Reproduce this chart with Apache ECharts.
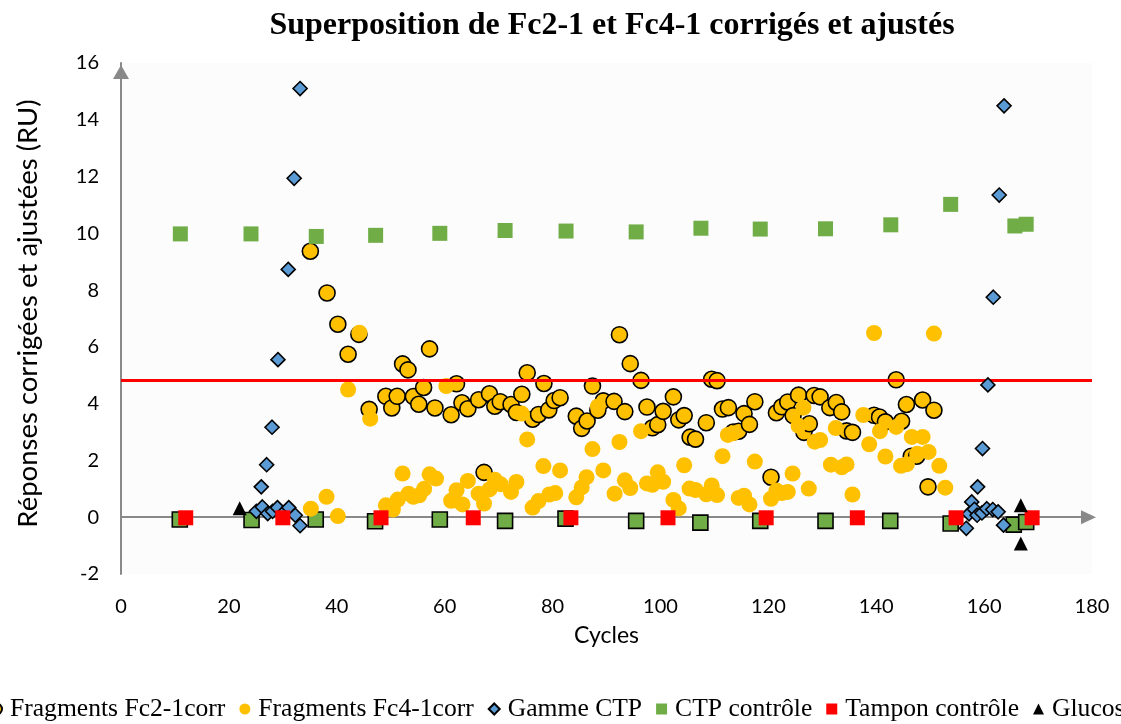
<!DOCTYPE html>
<html>
<head>
<meta charset="utf-8">
<script src="https://cdn.jsdelivr.net/npm/echarts/dist/echarts.min.js"></script>
<style>
  html, body { margin: 0; padding: 0; background: #ffffff; }
  #chart { width: 1121px; height: 724px; }
</style>
</head>
<body>
<div id="chart"></div>
<script>
// Corrected and adjusted responses (RU) per cycle, [cycle, response]
const fragmentsFc2 = [
  [35.1, 9.37], [38.2, 7.90], [40.2, 6.80], [42.1, 5.74], [44.1, 6.44], [46.0, 3.80],
  [49.1, 4.26], [50.2, 3.85], [51.2, 4.26], [52.2, 5.40], [53.2, 5.19], [54.2, 4.25], [55.2, 3.98],
  [56.1, 4.57], [57.2, 5.93], [58.2, 3.85], [61.2, 3.61], [62.2, 4.70], [63.2, 4.03], [64.3, 3.82],
  [66.3, 4.14], [67.3, 1.58], [68.3, 4.35], [69.3, 3.91], [70.3, 4.07], [72.3, 3.97], [73.3, 3.69],
  [74.3, 4.33], [75.3, 5.09], [76.3, 3.45], [77.4, 3.62], [78.4, 4.71], [79.3, 3.78], [80.3, 4.11],
  [81.4, 4.21], [84.4, 3.56], [85.4, 3.13], [86.4, 3.39], [87.4, 4.62], [88.4, 3.77], [89.4, 4.10],
  [91.4, 4.08], [92.4, 6.43], [93.4, 3.72], [94.4, 5.41], [96.4, 4.82], [97.5, 3.88], [98.5, 3.15],
  [99.5, 3.26], [100.5, 3.73], [102.4, 4.24], [103.4, 3.43], [104.4, 3.58], [105.5, 2.82], [106.5, 2.75],
  [108.5, 3.33], [109.5, 4.86], [110.5, 4.81], [111.5, 3.81], [112.6, 3.86], [113.5, 3.00], [114.5, 3.03],
  [115.5, 3.65], [116.5, 3.27], [117.5, 4.07], [120.5, 1.41], [121.5, 3.68], [122.5, 3.89], [123.6, 4.06],
  [124.6, 3.58], [125.6, 4.30], [126.6, 2.99], [127.6, 3.29], [128.5, 4.29], [129.6, 4.24], [131.4, 3.86],
  [132.6, 4.04], [133.6, 3.71], [134.5, 3.04], [135.6, 2.99], [139.6, 3.59], [140.6, 3.53], [141.7, 3.36],
  [143.7, 4.84], [144.7, 3.38], [145.6, 3.97], [146.5, 2.15], [147.5, 2.15], [148.6, 4.13], [149.6, 1.07],
  [150.7, 3.77]
];

const fragmentsFc4 = [
  [35.2, 0.30], [38.1, 0.72], [40.2, 0.04], [42.1, 4.50], [44.2, 6.50], [46.2, 3.47],
  [49.1, 0.42], [50.4, 0.27], [51.3, 0.62], [52.2, 1.54], [53.3, 0.83], [54.2, 0.72], [55.3, 0.77],
  [56.2, 1.00], [57.2, 1.51], [58.4, 1.36], [60.3, 4.62], [61.2, 0.58], [62.2, 0.95], [63.3, 0.45],
  [64.3, 1.28], [66.3, 0.83], [67.3, 0.48], [68.3, 0.98], [69.3, 1.32], [70.4, 1.16], [72.3, 0.89],
  [73.3, 1.24], [74.3, 3.65], [75.3, 2.74], [76.3, 0.34], [77.4, 0.57], [78.3, 1.80], [79.4, 0.80],
  [80.5, 0.85], [81.4, 1.65], [84.4, 0.70], [85.4, 1.05], [86.3, 1.41], [87.4, 2.40], [88.4, 3.90],
  [89.4, 1.65], [91.5, 0.83], [92.4, 2.65], [93.4, 1.30], [94.4, 1.03], [96.4, 3.03], [97.5, 1.19],
  [98.5, 1.14], [99.5, 1.58], [100.5, 1.25], [102.4, 0.61], [103.4, 0.31], [104.4, 1.83], [105.4, 1.01],
  [106.5, 0.96], [108.5, 0.81], [109.5, 1.12], [110.5, 0.78], [111.5, 2.15], [112.5, 2.90], [113.5, 2.96],
  [114.5, 0.68], [115.5, 0.76], [116.5, 0.45], [117.5, 1.96], [120.5, 0.65], [121.5, 0.94], [122.5, 0.85],
  [123.6, 0.89], [124.5, 1.54], [125.6, 3.22], [126.5, 3.86], [127.5, 1.01], [128.6, 2.66], [129.6, 2.72],
  [131.6, 1.85], [132.5, 3.14], [133.6, 1.76], [134.5, 1.86], [135.6, 0.80], [137.6, 3.60], [138.7, 2.57],
  [139.6, 6.49], [140.7, 3.03], [141.7, 2.14], [143.7, 3.18], [144.6, 1.81], [145.7, 1.87], [146.6, 2.83],
  [147.6, 2.24], [148.6, 2.83], [149.7, 2.30], [150.7, 6.47], [151.7, 1.81], [152.8, 1.04]
];

const gammeCTP = [
  [25.1, 0.21], [26.2, 0.36], [27.2, 0.13], [28.1, 0.21], [29.0, 0.34], [30.1, 0.15], [31.1, 0.34],
  [32.3, 0.07], [33.2, -0.30],
  [26.0, 1.07], [27.0, 1.85], [28.0, 3.17], [29.1, 5.55], [31.0, 8.73], [32.1, 11.94], [33.2, 15.10],
  [156.7, -0.39], [157.2, 0.12], [157.7, 0.54], [158.2, 0.28], [158.7, 0.07], [159.6, 0.15], [160.5, 0.30],
  [161.6, 0.27], [162.6, 0.19], [163.6, -0.28],
  [158.8, 1.07], [159.7, 2.42], [160.7, 4.66], [161.7, 7.75], [162.8, 11.35], [163.7, 14.49]
];

// CTP control injections, read on the reference channel (near 10 RU)
const ctpControle = [
  [11.0, 9.98], [24.1, 9.98], [36.2, 9.89], [47.2, 9.93], [59.1, 10.00], [71.2, 10.10], [82.5, 10.08],
  [95.5, 10.05], [107.5, 10.18], [118.5, 10.15], [130.6, 10.16], [142.7, 10.30], [153.8, 11.02],
  [165.7, 10.26], [167.8, 10.32]
];

// CTP control injections, read on the corrected channel (near 0 RU)
const ctpControleCorr = [
  [10.9, -0.08], [24.2, -0.10], [36.1, -0.08], [47.1, -0.14], [59.1, -0.08], [71.2, -0.13], [82.4, -0.05],
  [95.5, -0.13], [107.4, -0.19], [118.5, -0.13], [130.6, -0.13], [142.6, -0.13], [153.8, -0.22],
  [165.5, -0.26], [167.8, -0.17]
];

const tamponControle = [
  [12.0, -0.02], [30.0, -0.02], [48.2, -0.02], [65.3, -0.02], [83.4, -0.02], [101.4, -0.02],
  [119.6, -0.02], [136.5, -0.02], [154.8, -0.02], [168.9, -0.02]
];

const glucose = [
  [22.0, 0.32], [166.8, 0.42], [166.8, -0.93]
];

// Positivity threshold (RU)
const seuil = 4.83;

const xRange = { min: 0, max: 180, interval: 20 };
const yRange = { min: -2, max: 16, interval: 2 };

const titre = 'Superposition de Fc2-1 et Fc4-1 corrigés et ajustés';
const axeX = 'Cycles';
const axeY = 'Réponses corrigées et ajustées (RU)';
const legendNames = ['Fragments Fc2-1corr', 'Fragments Fc4-1corr', 'Gamme CTP', 'CTP contrôle', 'Tampon contrôle', 'Glucose'];

const axisGrey = '#898989';
const sansFont = 'Lato, "Open Sans", sans-serif';
const serifFont = '"Liberation Serif", "DejaVu Serif", serif';

function scatter(name, data, symbol, size, color, bordered, z) {
  return {
    type: 'scatter',
    name: name,
    data: data,
    symbol: symbol,
    symbolSize: size,
    z: z,
    itemStyle: {
      color: color,
      opacity: 1,
      borderColor: bordered ? '#000000' : color,
      borderWidth: bordered ? 1.6 : 0
    },
    emphasis: { disabled: true },
    silent: true
  };
}

const chart = echarts.init(document.getElementById('chart'), null, { renderer: 'canvas' });

const series = [
  scatter('CTP contrôle Fc2-1', ctpControleCorr, 'rect', 15, '#70AD47', true, 2),
  scatter(legendNames[0], fragmentsFc2, 'circle', 16, '#FFC000', true, 3),
  scatter(legendNames[1], fragmentsFc4, 'circle', 16, '#FFC000', false, 4),
  scatter(legendNames[2], gammeCTP, 'diamond', 14, '#5B9BD5', true, 5),
  scatter(legendNames[3], ctpControle, 'rect', 15, '#70AD47', false, 6),
  scatter(legendNames[4], tamponControle, 'rect', 15, '#FF0000', false, 7),
  scatter(legendNames[5], glucose, 'triangle', 14, '#000000', false, 8)
];

// Threshold line across the plot
series[1].markLine = {
  silent: true,
  symbol: ['none', 'none'],
  label: { show: false },
  lineStyle: { color: '#FF0000', width: 3, type: 'solid' },
  data: [{ yAxis: seuil }],
  animation: false
};

chart.setOption({
  animation: false,
  backgroundColor: '#ffffff',
  title: {
    text: titre,
    left: 607,
    textAlign: 'center',
    top: 5,
    textStyle: { fontFamily: serifFont, fontWeight: 'bold', fontSize: 32, color: '#000000' }
  },
  legend: {
    data: legendNames,
    left: -15,
    top: 691,
    width: 1500,
    itemWidth: 11,
    itemHeight: 11,
    itemGap: 14,
    selectedMode: false,
    textStyle: { fontFamily: serifFont, fontSize: 25.6, color: '#000000', padding: [0, 0, 0, 3] }
  },
  grid: {
    left: 121, right: 29, top: 63, bottom: 150,
    show: true, backgroundColor: '#fcfcfc', borderWidth: 0
  },
  xAxis: [
    {
      type: 'value', min: xRange.min, max: xRange.max, interval: xRange.interval,
      position: 'bottom',
      axisLine: { show: false, onZero: false },
      axisTick: { show: false },
      splitLine: { show: false },
      axisLabel: { fontFamily: sansFont, fontSize: 20, color: '#000000', margin: 23 },
      name: axeX, nameLocation: 'middle', nameGap: 50,
      nameTextStyle: { fontFamily: sansFont, fontSize: 23, color: '#000000' }
    },
    {
      type: 'value', min: xRange.min, max: xRange.max,
      position: 'bottom',
      axisLine: {
        show: true, onZero: true, onZeroAxisIndex: 0,
        symbol: ['none', 'triangle'], symbolSize: [14, 15], symbolOffset: [0, -3.5],
        lineStyle: { color: axisGrey, width: 2 }
      },
      axisTick: { show: false },
      splitLine: { show: false },
      axisLabel: { show: false }
    }
  ],
  yAxis: {
    type: 'value', min: yRange.min, max: yRange.max, interval: yRange.interval,
    position: 'left',
    axisLine: {
      show: true, onZero: false,
      symbol: ['none', 'triangle'], symbolSize: [16, 14], symbolOffset: [0, -9],
      lineStyle: { color: axisGrey, width: 2 }
    },
    axisTick: { show: false },
    splitLine: { show: false },
    axisLabel: { fontFamily: sansFont, fontSize: 20, color: '#000000', margin: 22 },
    name: axeY, nameLocation: 'middle', nameGap: 79,
    nameTextStyle: { fontFamily: sansFont, fontSize: 27.5, color: '#000000', padding: [0, 0, 0, 10] }
  },
  series: series
});
</script>
</body>
</html>
